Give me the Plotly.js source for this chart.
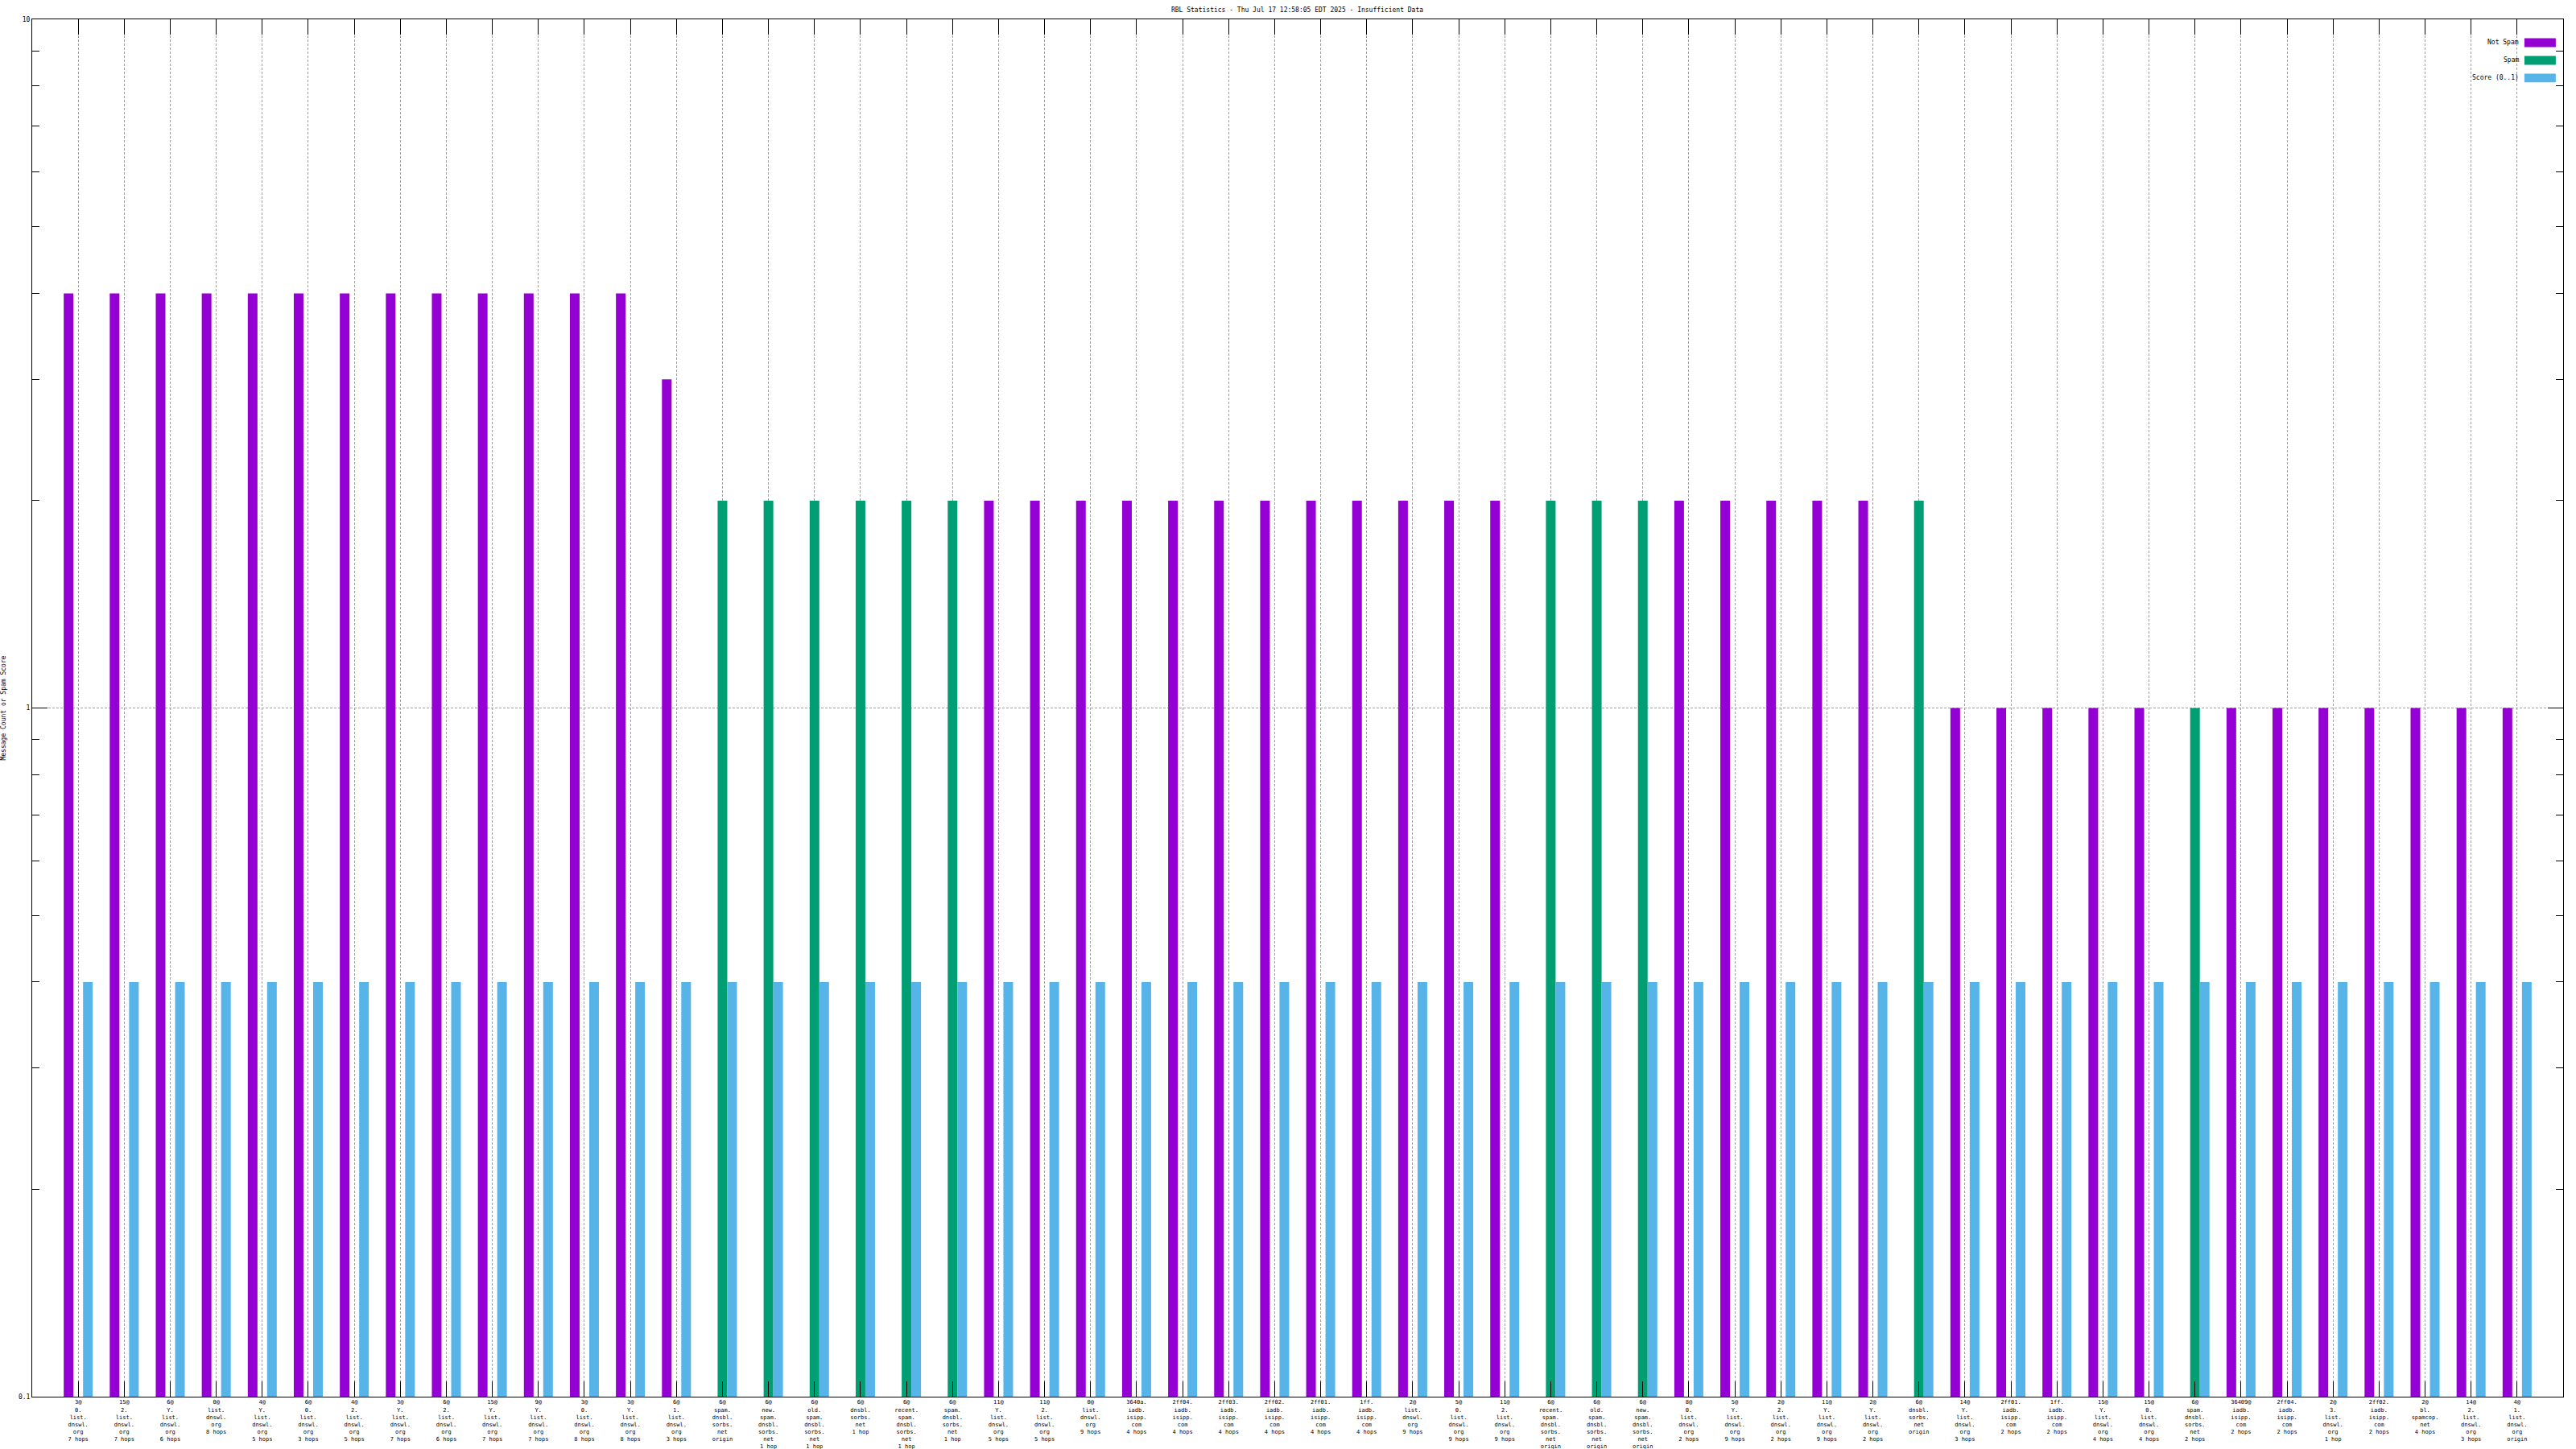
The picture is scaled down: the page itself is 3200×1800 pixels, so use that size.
<!DOCTYPE html>
<html>
<head>
<meta charset="utf-8">
<script src="https://cdn.plot.ly/plotly-3.0.1.min.js"></script>
<style>html,body{margin:0;padding:0;background:#fff;}#chart{width:3200px;height:1800px;}</style>
</head>
<body>
<div id="chart"></div>
<script>
const titleText = 'RBL Statistics - Thu Jul 17 12:58:05 EDT 2025 - Insufficient Data';
const yTitle = 'Message Count or Spam Score';
const seriesNames = ['Not Spam', 'Spam', 'Score (0..1)'];
const seriesColors = ['#9400D3', '#009E73', '#56B4E9'];

const categories = [
  ['3@','0.','list.','dnswl.','org','7 hops'],
  ['15@','2.','list.','dnswl.','org','7 hops'],
  ['6@','Y.','list.','dnswl.','org','6 hops'],
  ['0@','list.','dnswl.','org','8 hops'],
  ['4@','Y.','list.','dnswl.','org','5 hops'],
  ['6@','0.','list.','dnswl.','org','3 hops'],
  ['4@','2.','list.','dnswl.','org','5 hops'],
  ['3@','Y.','list.','dnswl.','org','7 hops'],
  ['6@','2.','list.','dnswl.','org','6 hops'],
  ['15@','Y.','list.','dnswl.','org','7 hops'],
  ['9@','Y.','list.','dnswl.','org','7 hops'],
  ['3@','0.','list.','dnswl.','org','8 hops'],
  ['3@','Y.','list.','dnswl.','org','8 hops'],
  ['6@','1.','list.','dnswl.','org','3 hops'],
  ['6@','spam.','dnsbl.','sorbs.','net','origin'],
  ['6@','new.','spam.','dnsbl.','sorbs.','net','1 hop'],
  ['6@','old.','spam.','dnsbl.','sorbs.','net','1 hop'],
  ['6@','dnsbl.','sorbs.','net','1 hop'],
  ['6@','recent.','spam.','dnsbl.','sorbs.','net','1 hop'],
  ['6@','spam.','dnsbl.','sorbs.','net','1 hop'],
  ['11@','Y.','list.','dnswl.','org','5 hops'],
  ['11@','2.','list.','dnswl.','org','5 hops'],
  ['0@','list.','dnswl.','org','9 hops'],
  ['3640a.','iadb.','isipp.','com','4 hops'],
  ['2ff04.','iadb.','isipp.','com','4 hops'],
  ['2ff03.','iadb.','isipp.','com','4 hops'],
  ['2ff02.','iadb.','isipp.','com','4 hops'],
  ['2ff01.','iadb.','isipp.','com','4 hops'],
  ['1ff.','iadb.','isipp.','com','4 hops'],
  ['2@','list.','dnswl.','org','9 hops'],
  ['5@','0.','list.','dnswl.','org','9 hops'],
  ['11@','2.','list.','dnswl.','org','9 hops'],
  ['6@','recent.','spam.','dnsbl.','sorbs.','net','origin'],
  ['6@','old.','spam.','dnsbl.','sorbs.','net','origin'],
  ['6@','new.','spam.','dnsbl.','sorbs.','net','origin'],
  ['8@','0.','list.','dnswl.','org','2 hops'],
  ['5@','Y.','list.','dnswl.','org','9 hops'],
  ['2@','2.','list.','dnswl.','org','2 hops'],
  ['11@','Y.','list.','dnswl.','org','9 hops'],
  ['2@','Y.','list.','dnswl.','org','2 hops'],
  ['6@','dnsbl.','sorbs.','net','origin'],
  ['14@','Y.','list.','dnswl.','org','3 hops'],
  ['2ff01.','iadb.','isipp.','com','2 hops'],
  ['1ff.','iadb.','isipp.','com','2 hops'],
  ['15@','Y.','list.','dnswl.','org','4 hops'],
  ['15@','0.','list.','dnswl.','org','4 hops'],
  ['6@','spam.','dnsbl.','sorbs.','net','2 hops'],
  ['36409@','iadb.','isipp.','com','2 hops'],
  ['2ff04.','iadb.','isipp.','com','2 hops'],
  ['2@','3.','list.','dnswl.','org','1 hop'],
  ['2ff02.','iadb.','isipp.','com','2 hops'],
  ['2@','bl.','spamcop.','net','4 hops'],
  ['14@','2.','list.','dnswl.','org','3 hops'],
  ['4@','1.','list.','dnswl.','org','origin']
];

const notSpam = [4,4,4,4,4,4,4,4,4,4,4,4,4,3, 0,0,0,0,0,0, 2,2,2,2,2,2,2,2,2,2,2,2, 0,0,0, 2,2,2,2,2, 0, 1,1,1,1,1, 0, 1,1,1,1,1,1,1];
const spam    = [0,0,0,0,0,0,0,0,0,0,0,0,0,0, 2,2,2,2,2,2, 0,0,0,0,0,0,0,0,0,0,0,0, 2,2,2, 0,0,0,0,0, 2, 0,0,0,0,0, 1, 0,0,0,0,0,0,0];
const score   = [0.4,0.4,0.4,0.4,0.4,0.4,0.4,0.4,0.4,0.4,0.4,0.4,0.4,0.4,0.4,0.4,0.4,0.4,0.4,0.4,0.4,0.4,0.4,0.4,0.4,0.4,0.4,0.4,0.4,0.4,0.4,0.4,0.4,0.4,0.4,0.4,0.4,0.4,0.4,0.4,0.4,0.4,0.4,0.4,0.4,0.4,0.4,0.4,0.4,0.4,0.4,0.4,0.4,0.4];

const yMajor = [0.1, 1, 10];
const yMajorText = ['0.1', '1', '10'];
const yMinor = [0.2,0.3,0.4,0.5,0.6,0.7,0.8,0.9,2,3,4,5,6,7,8,9];

const labels = categories.map(l => l.join('<br>'));
const FONT = 'DejaVu Sans Mono, monospace';

const seriesValues = [notSpam, spam, score];
const traces = seriesValues.map((vals, i) => ({
  type: 'bar',
  name: seriesNames[i],
  x: labels,
  y: vals.map(v => v > 0 ? v : null),
  marker: {color: seriesColors[i], line: {width: 0}},
  showlegend: false,
  hoverinfo: 'x+y+name'
}));

// custom legend (text on the left of the swatch, like the reference)
const legendY = [0.9831, 0.9702, 0.9574];
const shapes = [];
const annotations = [];
seriesNames.forEach((n, i) => {
  shapes.push({type:'rect', xref:'paper', yref:'paper', x0:0.9847, x1:0.9971,
    y0:legendY[i]-0.0032, y1:legendY[i]+0.0032, fillcolor:seriesColors[i], line:{width:0}});
  annotations.push({xref:'paper', yref:'paper', x:0.9832, y:legendY[i], xanchor:'right', yanchor:'middle',
    text:n, showarrow:false, font:{family:FONT, size:8, color:'#000'}});
});

const layout = {
  width: 3200, height: 1800,
  margin: {l:40, r:16, t:24, b:65, pad:0},
  paper_bgcolor:'#fff', plot_bgcolor:'#fff',
  font: {family: FONT, size: 8, color: '#000'},
  title: {text: titleText, x: 0.5036, xanchor:'center', y: 0.9931, yanchor:'middle', yref:'container',
          font:{family:FONT, size:8, color:'#000'}},
  barmode: 'group', bargap: 0.37, bargroupgap: 0,
  xaxis: {
    type:'category', range:[-1, 54], autorange:false,
    showline:true, linecolor:'#000', linewidth:1, mirror:'allticks',
    ticks:'inside', ticklen:19, tickwidth:1, tickcolor:'#000',
    showgrid:true, gridcolor:'#a0a0a0', gridwidth:1, griddash:'3px,2px',
    tickfont:{family:FONT, size:7, color:'#000'}, tickangle:0, automargin:false,
    zeroline:false
  },
  yaxis: {
    type:'log', range:[-1, 1], autorange:false,
    showline:true, linecolor:'#000', linewidth:1, mirror:'allticks',
    tickmode:'array', tickvals:yMajor, ticktext:yMajorText,
    ticks:'inside', ticklen:19, tickwidth:1, tickcolor:'#000',
    showgrid:true, gridcolor:'#a0a0a0', gridwidth:1, griddash:'3px,2px',
    minor:{tickmode:'array', tickvals:yMinor, ticks:'inside', ticklen:9, tickwidth:1, tickcolor:'#000', showgrid:false},
    tickfont:{family:FONT, size:8, color:'#000'}, automargin:false,
    title:{text:yTitle, standoff:16, font:{family:FONT, size:8, color:'#000'}},
    zeroline:false
  },
  shapes: shapes,
  annotations: annotations
};

Plotly.newPlot('chart', traces, layout, {displayModeBar:false, staticPlot:true});
</script>
</body>
</html>
